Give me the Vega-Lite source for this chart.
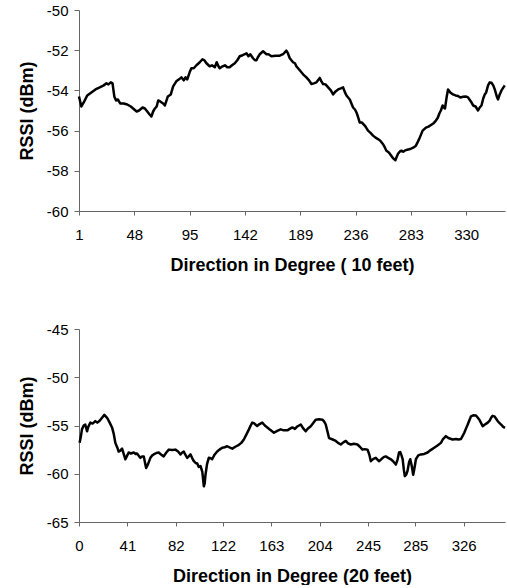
{
  "$schema": "https://vega.github.io/schema/vega-lite/v6.json",
  "autosize": {"type": "pad"},
  "padding": {"left": 18, "top": 3, "right": 0, "bottom": 0},
  "background": "white",
  "bounds": "flush",
  "spacing": 118,
  "config": {
    "view": {"stroke": null},
    "font": "Liberation Sans",
    "axis": {
      "grid": false,
      "domainColor": "#666666",
      "tickColor": "#666666",
      "labelColor": "#000000",
      "labelFont": "Liberation Sans",
      "labelFontSize": 15,
      "titleFont": "Liberation Sans",
      "titleFontSize": 18,
      "titleFontWeight": "bold",
      "titleColor": "#000000",
      "labelFlush": false,
      "labelOverlap": false,
      "labelExpr": "'' + datum.value"
    }
  },
  "vconcat": [
    {
      "width": 426,
      "height": 201,
      "data": {"values": [
        {"deg": 1, "rssi": -54.3}, {"deg": 3, "rssi": -54.8}, {"deg": 5, "rssi": -54.6}, {"deg": 8, "rssi": -54.25},
        {"deg": 11.5, "rssi": -54.1}, {"deg": 15, "rssi": -53.95}, {"deg": 18.6, "rssi": -53.85}, {"deg": 22, "rssi": -53.75},
        {"deg": 24.3, "rssi": -53.65}, {"deg": 26, "rssi": -53.7}, {"deg": 28, "rssi": -53.6}, {"deg": 29.5, "rssi": -53.65},
        {"deg": 31, "rssi": -54.3}, {"deg": 32.5, "rssi": -54.5}, {"deg": 34, "rssi": -54.45}, {"deg": 36, "rssi": -54.65},
        {"deg": 39, "rssi": -54.65}, {"deg": 42, "rssi": -54.7}, {"deg": 45, "rssi": -54.8}, {"deg": 48, "rssi": -54.95},
        {"deg": 50, "rssi": -55.05}, {"deg": 52, "rssi": -55.0}, {"deg": 55, "rssi": -54.85}, {"deg": 57, "rssi": -54.9},
        {"deg": 59, "rssi": -55.05}, {"deg": 61, "rssi": -55.2}, {"deg": 62.5, "rssi": -55.3}, {"deg": 64, "rssi": -55.05},
        {"deg": 65.5, "rssi": -54.9}, {"deg": 67, "rssi": -54.8}, {"deg": 68.3, "rssi": -54.5}, {"deg": 70, "rssi": -54.55},
        {"deg": 72.5, "rssi": -54.65}, {"deg": 74, "rssi": -54.75}, {"deg": 76.5, "rssi": -54.3}, {"deg": 79, "rssi": -54.2},
        {"deg": 81, "rssi": -53.8}, {"deg": 83.7, "rssi": -53.55}, {"deg": 86, "rssi": -53.45}, {"deg": 88, "rssi": -53.35},
        {"deg": 90, "rssi": -53.5}, {"deg": 91.5, "rssi": -53.35}, {"deg": 93, "rssi": -53.45}, {"deg": 95, "rssi": -53.1},
        {"deg": 96.5, "rssi": -52.9}, {"deg": 98.5, "rssi": -52.9}, {"deg": 100.8, "rssi": -52.75}, {"deg": 103.6, "rssi": -52.6},
        {"deg": 105.9, "rssi": -52.45}, {"deg": 107.5, "rssi": -52.5}, {"deg": 109.3, "rssi": -52.65}, {"deg": 112, "rssi": -52.8},
        {"deg": 114, "rssi": -52.75}, {"deg": 116.4, "rssi": -52.85}, {"deg": 118, "rssi": -52.6}, {"deg": 119.5, "rssi": -52.8},
        {"deg": 120.6, "rssi": -52.9}, {"deg": 123, "rssi": -52.8}, {"deg": 125, "rssi": -52.75}, {"deg": 127, "rssi": -52.85},
        {"deg": 129, "rssi": -52.85}, {"deg": 131, "rssi": -52.75}, {"deg": 133.4, "rssi": -52.65}, {"deg": 135.5, "rssi": -52.5},
        {"deg": 137.6, "rssi": -52.3}, {"deg": 140, "rssi": -52.25}, {"deg": 142, "rssi": -52.2}, {"deg": 143.3, "rssi": -52.15},
        {"deg": 145, "rssi": -52.3}, {"deg": 146.5, "rssi": -52.2}, {"deg": 148.9, "rssi": -52.4}, {"deg": 150.5, "rssi": -52.5},
        {"deg": 151.8, "rssi": -52.5}, {"deg": 153, "rssi": -52.35}, {"deg": 154.6, "rssi": -52.2}, {"deg": 157.4, "rssi": -52.05},
        {"deg": 160.3, "rssi": -52.2}, {"deg": 162, "rssi": -52.2}, {"deg": 164.5, "rssi": -52.3}, {"deg": 168, "rssi": -52.28},
        {"deg": 171.6, "rssi": -52.27}, {"deg": 174.4, "rssi": -52.2}, {"deg": 177.2, "rssi": -52.02}, {"deg": 178.5, "rssi": -52.15},
        {"deg": 180.1, "rssi": -52.4}, {"deg": 182.9, "rssi": -52.6}, {"deg": 184.5, "rssi": -52.65}, {"deg": 185.7, "rssi": -52.8},
        {"deg": 188.6, "rssi": -53.0}, {"deg": 191.4, "rssi": -53.2}, {"deg": 194.2, "rssi": -53.35}, {"deg": 196.5, "rssi": -53.5},
        {"deg": 198.5, "rssi": -53.68}, {"deg": 200.5, "rssi": -53.65}, {"deg": 202.8, "rssi": -53.6}, {"deg": 205.6, "rssi": -53.38},
        {"deg": 207, "rssi": -53.55}, {"deg": 208.4, "rssi": -53.68}, {"deg": 210.5, "rssi": -53.7}, {"deg": 212.7, "rssi": -53.85},
        {"deg": 215, "rssi": -54.0}, {"deg": 216.9, "rssi": -54.2}, {"deg": 219, "rssi": -54.05}, {"deg": 221.2, "rssi": -53.95},
        {"deg": 223.5, "rssi": -53.9}, {"deg": 225.4, "rssi": -53.85}, {"deg": 227, "rssi": -54.1}, {"deg": 228.3, "rssi": -54.25},
        {"deg": 231.1, "rssi": -54.45}, {"deg": 233.9, "rssi": -54.85}, {"deg": 235.5, "rssi": -54.95}, {"deg": 236.8, "rssi": -55.1},
        {"deg": 238, "rssi": -55.3}, {"deg": 239.6, "rssi": -55.6}, {"deg": 241.5, "rssi": -55.6}, {"deg": 243.8, "rssi": -55.75},
        {"deg": 245, "rssi": -55.85}, {"deg": 246.6, "rssi": -56.0}, {"deg": 248.5, "rssi": -56.1}, {"deg": 250.9, "rssi": -56.25},
        {"deg": 253, "rssi": -56.35}, {"deg": 255.1, "rssi": -56.42}, {"deg": 257, "rssi": -56.5}, {"deg": 259.4, "rssi": -56.68},
        {"deg": 261, "rssi": -56.85}, {"deg": 262.2, "rssi": -57.0}, {"deg": 263.5, "rssi": -57.05}, {"deg": 265.1, "rssi": -57.15},
        {"deg": 267.9, "rssi": -57.38}, {"deg": 269.9, "rssi": -57.47}, {"deg": 271, "rssi": -57.3}, {"deg": 272.1, "rssi": -57.15},
        {"deg": 273.5, "rssi": -57.05}, {"deg": 275, "rssi": -57.0}, {"deg": 276.5, "rssi": -57.05}, {"deg": 277.8, "rssi": -57.0},
        {"deg": 280, "rssi": -56.95}, {"deg": 283.1, "rssi": -56.9}, {"deg": 285, "rssi": -56.85}, {"deg": 287.3, "rssi": -56.75},
        {"deg": 289, "rssi": -56.55}, {"deg": 290.2, "rssi": -56.4}, {"deg": 293, "rssi": -56.0}, {"deg": 295.8, "rssi": -55.85},
        {"deg": 298, "rssi": -55.8}, {"deg": 300.1, "rssi": -55.72}, {"deg": 302, "rssi": -55.65}, {"deg": 304.3, "rssi": -55.5},
        {"deg": 306, "rssi": -55.35}, {"deg": 307.2, "rssi": -55.15}, {"deg": 308.5, "rssi": -55.0}, {"deg": 310, "rssi": -54.75},
        {"deg": 311, "rssi": -54.85}, {"deg": 312, "rssi": -54.9}, {"deg": 313.5, "rssi": -54.3}, {"deg": 314.6, "rssi": -53.95},
        {"deg": 316.5, "rssi": -54.1}, {"deg": 318.8, "rssi": -54.2}, {"deg": 321, "rssi": -54.25}, {"deg": 323.1, "rssi": -54.28},
        {"deg": 325, "rssi": -54.35}, {"deg": 327.4, "rssi": -54.32}, {"deg": 329.5, "rssi": -54.3}, {"deg": 331.6, "rssi": -54.35},
        {"deg": 334, "rssi": -54.55}, {"deg": 335.9, "rssi": -54.75}, {"deg": 338, "rssi": -54.8}, {"deg": 340.1, "rssi": -55.0},
        {"deg": 341.5, "rssi": -54.85}, {"deg": 343, "rssi": -54.75}, {"deg": 344.5, "rssi": -54.4}, {"deg": 345.8, "rssi": -54.2},
        {"deg": 347, "rssi": -54.1}, {"deg": 348.6, "rssi": -53.75}, {"deg": 350, "rssi": -53.6}, {"deg": 351.5, "rssi": -53.62},
        {"deg": 353, "rssi": -53.75}, {"deg": 354.3, "rssi": -53.95}, {"deg": 356, "rssi": -54.3}, {"deg": 357.1, "rssi": -54.45},
        {"deg": 358.5, "rssi": -54.2}, {"deg": 360, "rssi": -54.0}, {"deg": 362.8, "rssi": -53.75}
      ]},
      "mark": {"type": "line", "color": "#000000", "strokeWidth": 2.5, "strokeJoin": "round"},
      "encoding": {
        "x": {
          "field": "deg", "type": "quantitative",
          "scale": {"domain": [1, 363], "nice": false, "zero": false},
          "axis": {
            "values": [1, 48, 95, 142, 189, 236, 283, 330],
            "tickSize": 4, "labelPadding": 12,
            "title": "Direction in Degree ( 10 feet)",
            "titleX": 213, "titleY": 59, "titleBaseline": "alphabetic", "titleAlign": "center"
          }
        },
        "y": {
          "field": "rssi", "type": "quantitative",
          "scale": {"domain": [-60, -50], "nice": false, "zero": false},
          "axis": {
            "values": [-60, -58, -56, -54, -52, -50],
            "tickSize": 5, "labelPadding": 6,
            "title": "RSSI (dBm)",
            "titleX": -47, "titleY": 100.5, "titleAngle": -90, "titleBaseline": "alphabetic", "titleAlign": "center"
          }
        }
      }
    },
    {
      "width": 426,
      "height": 193,
      "data": {"values": [
        {"deg": 0.5, "rssi": -56.8}, {"deg": 1.5, "rssi": -56.2}, {"deg": 2.5, "rssi": -55.4}, {"deg": 4, "rssi": -55.0},
        {"deg": 5.3, "rssi": -54.9}, {"deg": 6.8, "rssi": -55.6}, {"deg": 8, "rssi": -55.1}, {"deg": 9.6, "rssi": -54.7},
        {"deg": 11.5, "rssi": -54.8}, {"deg": 13.8, "rssi": -54.55}, {"deg": 15.5, "rssi": -54.7}, {"deg": 17.5, "rssi": -54.5},
        {"deg": 19.5, "rssi": -54.2}, {"deg": 21.5, "rssi": -53.9}, {"deg": 23.8, "rssi": -54.2}, {"deg": 26, "rssi": -54.7},
        {"deg": 28, "rssi": -55.2}, {"deg": 29.5, "rssi": -55.9}, {"deg": 30.8, "rssi": -56.8}, {"deg": 32.5, "rssi": -57.3},
        {"deg": 33.6, "rssi": -57.7}, {"deg": 35, "rssi": -57.6}, {"deg": 36.5, "rssi": -57.4}, {"deg": 38, "rssi": -58.0},
        {"deg": 39.3, "rssi": -58.5}, {"deg": 40.5, "rssi": -58.2}, {"deg": 42.1, "rssi": -57.8}, {"deg": 44, "rssi": -57.9},
        {"deg": 46.4, "rssi": -57.8}, {"deg": 48, "rssi": -57.95}, {"deg": 49.2, "rssi": -57.9}, {"deg": 51, "rssi": -58.2},
        {"deg": 52, "rssi": -58.35}, {"deg": 53.5, "rssi": -58.2}, {"deg": 54.9, "rssi": -58.2}, {"deg": 56, "rssi": -58.9},
        {"deg": 56.9, "rssi": -59.4}, {"deg": 58.5, "rssi": -59.0}, {"deg": 60.5, "rssi": -58.35}, {"deg": 62, "rssi": -58.1},
        {"deg": 63.3, "rssi": -58.0}, {"deg": 65.5, "rssi": -57.85}, {"deg": 67.6, "rssi": -57.8}, {"deg": 69.5, "rssi": -58.0},
        {"deg": 71.8, "rssi": -58.2}, {"deg": 74, "rssi": -57.8}, {"deg": 76.1, "rssi": -57.5}, {"deg": 79, "rssi": -57.55},
        {"deg": 81.7, "rssi": -57.5}, {"deg": 84, "rssi": -57.7}, {"deg": 86, "rssi": -58.0}, {"deg": 87.5, "rssi": -57.8},
        {"deg": 88.8, "rssi": -57.7}, {"deg": 90, "rssi": -58.0}, {"deg": 91.7, "rssi": -58.35}, {"deg": 93, "rssi": -58.2},
        {"deg": 94.5, "rssi": -58.0}, {"deg": 96, "rssi": -58.4}, {"deg": 97.3, "rssi": -58.7}, {"deg": 99, "rssi": -58.9},
        {"deg": 100.1, "rssi": -58.9}, {"deg": 101.5, "rssi": -59.3}, {"deg": 103, "rssi": -59.2}, {"deg": 104.5, "rssi": -59.8},
        {"deg": 105.8, "rssi": -61.3}, {"deg": 106.5, "rssi": -61.0}, {"deg": 107.2, "rssi": -60.1}, {"deg": 108.5, "rssi": -59.0},
        {"deg": 110, "rssi": -58.35}, {"deg": 111.5, "rssi": -58.4}, {"deg": 112.8, "rssi": -58.5}, {"deg": 115, "rssi": -58.0},
        {"deg": 117.1, "rssi": -57.7}, {"deg": 119, "rssi": -57.5}, {"deg": 121.4, "rssi": -57.3}, {"deg": 123.5, "rssi": -57.25},
        {"deg": 125.6, "rssi": -57.15}, {"deg": 128, "rssi": -57.3}, {"deg": 129.9, "rssi": -57.4}, {"deg": 132.5, "rssi": -57.2},
        {"deg": 135.5, "rssi": -57.0}, {"deg": 137.5, "rssi": -56.8}, {"deg": 139.7, "rssi": -56.45}, {"deg": 142, "rssi": -55.9},
        {"deg": 144, "rssi": -55.4}, {"deg": 145.5, "rssi": -55.0}, {"deg": 146.8, "rssi": -54.7}, {"deg": 148.2, "rssi": -54.75},
        {"deg": 150, "rssi": -54.95}, {"deg": 151, "rssi": -55.05}, {"deg": 153, "rssi": -54.85}, {"deg": 155.3, "rssi": -54.7},
        {"deg": 157.5, "rssi": -55.0}, {"deg": 159.6, "rssi": -55.2}, {"deg": 162, "rssi": -55.45}, {"deg": 165.2, "rssi": -55.75},
        {"deg": 168, "rssi": -55.55}, {"deg": 170.9, "rssi": -55.4}, {"deg": 173.5, "rssi": -55.5}, {"deg": 176.6, "rssi": -55.5},
        {"deg": 178.5, "rssi": -55.35}, {"deg": 180.8, "rssi": -55.2}, {"deg": 183, "rssi": -55.35}, {"deg": 185, "rssi": -55.1},
        {"deg": 187.9, "rssi": -54.9}, {"deg": 190, "rssi": -55.3}, {"deg": 192.1, "rssi": -55.6}, {"deg": 194, "rssi": -55.3},
        {"deg": 196.4, "rssi": -55.07}, {"deg": 198.5, "rssi": -54.75}, {"deg": 200.6, "rssi": -54.4}, {"deg": 203.5, "rssi": -54.35},
        {"deg": 206.3, "rssi": -54.4}, {"deg": 207.8, "rssi": -54.6}, {"deg": 209.1, "rssi": -54.9}, {"deg": 210.5, "rssi": -55.6},
        {"deg": 211.9, "rssi": -56.3}, {"deg": 214, "rssi": -56.4}, {"deg": 217.6, "rssi": -56.6}, {"deg": 219.5, "rssi": -56.8},
        {"deg": 221.8, "rssi": -56.97}, {"deg": 224, "rssi": -56.75}, {"deg": 226.1, "rssi": -56.6}, {"deg": 228, "rssi": -56.85},
        {"deg": 230.3, "rssi": -56.97}, {"deg": 233, "rssi": -56.9}, {"deg": 236, "rssi": -56.97}, {"deg": 238, "rssi": -57.2},
        {"deg": 240.2, "rssi": -57.5}, {"deg": 242, "rssi": -57.45}, {"deg": 244.5, "rssi": -57.5}, {"deg": 246, "rssi": -58.0},
        {"deg": 247.3, "rssi": -58.7}, {"deg": 249.5, "rssi": -58.45}, {"deg": 251.5, "rssi": -58.35}, {"deg": 253, "rssi": -58.55},
        {"deg": 254.4, "rssi": -58.7}, {"deg": 256.5, "rssi": -58.45}, {"deg": 258.5, "rssi": -58.25}, {"deg": 260, "rssi": -58.2},
        {"deg": 262, "rssi": -58.35}, {"deg": 264.3, "rssi": -58.5}, {"deg": 266.5, "rssi": -58.75}, {"deg": 268.5, "rssi": -59.05},
        {"deg": 270, "rssi": -58.5}, {"deg": 271.2, "rssi": -57.8}, {"deg": 272.2, "rssi": -57.75}, {"deg": 273.3, "rssi": -58.1},
        {"deg": 274.3, "rssi": -58.5}, {"deg": 275.3, "rssi": -59.6}, {"deg": 276.1, "rssi": -60.25}, {"deg": 277.3, "rssi": -60.1},
        {"deg": 278.4, "rssi": -59.7}, {"deg": 279.7, "rssi": -58.8}, {"deg": 280.7, "rssi": -58.5}, {"deg": 282, "rssi": -59.2},
        {"deg": 283.2, "rssi": -60.1}, {"deg": 284.3, "rssi": -59.4}, {"deg": 285.5, "rssi": -58.5}, {"deg": 287.5, "rssi": -58.1},
        {"deg": 289.7, "rssi": -58.0}, {"deg": 292.5, "rssi": -57.95}, {"deg": 295.4, "rssi": -57.8}, {"deg": 298, "rssi": -57.55},
        {"deg": 301, "rssi": -57.3}, {"deg": 303.5, "rssi": -57.1}, {"deg": 306.7, "rssi": -56.8}, {"deg": 308.5, "rssi": -56.4},
        {"deg": 310.9, "rssi": -56.1}, {"deg": 313, "rssi": -56.3}, {"deg": 316.6, "rssi": -56.45}, {"deg": 319.5, "rssi": -56.4},
        {"deg": 321.5, "rssi": -56.45}, {"deg": 323.7, "rssi": -56.4}, {"deg": 325, "rssi": -56.1}, {"deg": 326.5, "rssi": -55.75},
        {"deg": 328, "rssi": -55.3}, {"deg": 329.4, "rssi": -54.9}, {"deg": 331, "rssi": -54.4}, {"deg": 332.2, "rssi": -54.05},
        {"deg": 334, "rssi": -53.95}, {"deg": 336.4, "rssi": -53.96}, {"deg": 338, "rssi": -54.2}, {"deg": 339.3, "rssi": -54.4},
        {"deg": 341, "rssi": -54.8}, {"deg": 342.1, "rssi": -55.07}, {"deg": 344, "rssi": -54.9}, {"deg": 346.4, "rssi": -54.7},
        {"deg": 348, "rssi": -54.5}, {"deg": 349.2, "rssi": -54.2}, {"deg": 350.5, "rssi": -54.0}, {"deg": 352, "rssi": -54.05},
        {"deg": 353.5, "rssi": -54.3}, {"deg": 354.8, "rssi": -54.55}, {"deg": 356, "rssi": -54.7}, {"deg": 357.7, "rssi": -54.9},
        {"deg": 359.5, "rssi": -55.15}, {"deg": 361, "rssi": -55.25}
      ]},
      "mark": {"type": "line", "color": "#000000", "strokeWidth": 2.5, "strokeJoin": "round"},
      "encoding": {
        "x": {
          "field": "deg", "type": "quantitative",
          "scale": {"domain": [0, 361], "nice": false, "zero": false},
          "axis": {
            "values": [0, 41, 82, 122, 163, 204, 245, 285, 326],
            "tickSize": 4, "labelPadding": 12,
            "title": "Direction in Degree (20 feet)",
            "titleX": 213, "titleY": 59, "titleBaseline": "alphabetic", "titleAlign": "center"
          }
        },
        "y": {
          "field": "rssi", "type": "quantitative",
          "scale": {"domain": [-65, -45], "nice": false, "zero": false},
          "axis": {
            "values": [-65, -60, -55, -50, -45],
            "tickSize": 5, "labelPadding": 6,
            "title": "RSSI (dBm)",
            "titleX": -47, "titleY": 96.5, "titleAngle": -90, "titleBaseline": "alphabetic", "titleAlign": "center"
          }
        }
      }
    }
  ]
}
